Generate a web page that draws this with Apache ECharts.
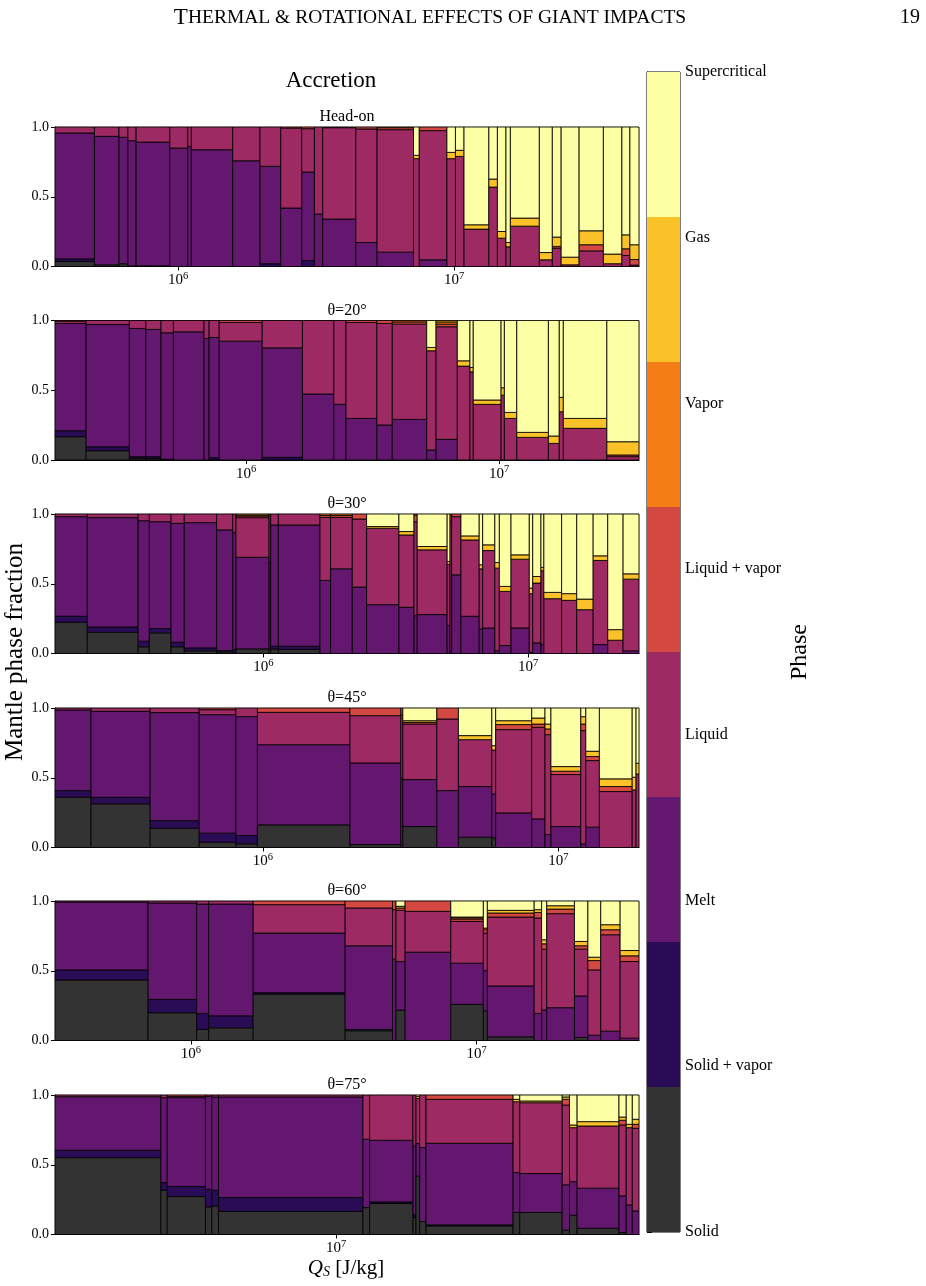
<!DOCTYPE html>
<html>
<head>
<meta charset="utf-8">
<script src="https://cdn.jsdelivr.net/npm/echarts@6/dist/echarts.min.js"></script>
<style>
  html, body { margin: 0; background: #fff; }
  #chart { width: 926px; height: 1286px; }
</style>
</head>
<body>
<div id="chart"></div>
<script>
// phases, bottom to top, with their colours
const phases = ['Solid', 'Solid + vapor', 'Melt', 'Liquid', 'Liquid + vapor', 'Vapor', 'Gas', 'Supercritical'];
const phaseColors = ['#333333', '#2a0b55', '#64176e', '#9e2a63', '#d44842', '#f57d15', '#fac228', '#fcffa4'];

const panelTitles = ['Head-on', 'θ=20°', 'θ=30°', 'θ=45°', 'θ=60°', 'θ=75°'];

// bar edges, log10 of Q_S in J/kg
// levels: cumulative top of solid, solid+vapor, melt, liquid, liquid+vapor, vapor, gas
// (supercritical fills the rest up to 1)
const headOnEdges = [5.554, 5.697, 5.786, 5.818, 5.848, 5.970, 6.035, 6.048, 6.198, 6.297, 6.372, 6.448, 6.494, 6.524, 6.644, 6.721, 6.853, 6.874, 6.974, 7.005, 7.036, 7.126, 7.157, 7.188, 7.204, 7.309, 7.356, 7.388, 7.453, 7.541, 7.608, 7.637, 7.670];
const headOnLevels = [
  [0.036, 0.055, 0.957, 1, 1, 1, 1],
  [0.012, 0.012, 0.933, 1, 1, 1, 1],
  [0.020, 0.020, 0.926, 1, 1, 1, 1],
  [0.005, 0.005, 0.902, 1, 1, 1, 1],
  [0.005, 0.005, 0.892, 1, 1, 1, 1],
  [0, 0, 0.849, 1, 1, 1, 1],
  [0, 0, 0.861, 1, 1, 1, 1],
  [0, 0, 0.837, 1, 1, 1, 1],
  [0, 0, 0.758, 1, 1, 1, 1],
  [0, 0.020, 0.718, 1, 1, 1, 1],
  [0, 0, 0.419, 0.993, 1, 1, 1],
  [0, 0.043, 0.677, 0.988, 1, 1, 1],
  [0, 0, 0.376, 1, 1, 1, 1],
  [0, 0, 0.340, 0.995, 1, 1, 1],
  [0, 0, 0.172, 0.986, 1, 1, 1],
  [0, 0, 0.103, 0.981, 0.995, 1, 1],
  [0, 0, 0, 0.773, 0.773, 0.773, 0.797],
  [0, 0, 0.048, 0.974, 1, 1, 1],
  [0, 0, 0, 0.773, 0.773, 0.773, 0.818],
  [0, 0, 0, 0.789, 0.789, 0.789, 0.833],
  [0, 0, 0, 0.268, 0.268, 0.268, 0.299],
  [0, 0, 0, 0.569, 0.569, 0.569, 0.627],
  [0, 0, 0, 0.203, 0.203, 0.203, 0.251],
  [0, 0, 0, 0.141, 0.141, 0.141, 0.172],
  [0, 0, 0, 0.289, 0.289, 0.289, 0.347],
  [0, 0, 0, 0.048, 0.048, 0.048, 0.100],
  [0, 0, 0, 0.132, 0.144, 0.144, 0.211],
  [0, 0, 0, 0.012, 0.012, 0.012, 0.067],
  [0, 0, 0, 0.112, 0.156, 0.156, 0.256],
  [0, 0, 0, 0.020, 0.020, 0.020, 0.089],
  [0, 0, 0, 0.079, 0.127, 0.127, 0.227],
  [0, 0, 0, 0.010, 0.050, 0.050, 0.156]
];

const theta20Edges = [5.245, 5.368, 5.539, 5.604, 5.664, 5.713, 5.834, 5.854, 5.894, 6.064, 6.223, 6.347, 6.395, 6.517, 6.578, 6.714, 6.751, 6.835, 6.885, 6.898, 7.008, 7.021, 7.070, 7.195, 7.238, 7.254, 7.426, 7.553];
const theta20Levels = [
  [0.167, 0.210, 0.979, 0.995, 1, 1, 1],
  [0.067, 0.095, 0.971, 1, 1, 1, 1],
  [0.012, 0.024, 0.943, 1, 1, 1, 1],
  [0.010, 0.024, 0.936, 1, 1, 1, 1],
  [0.005, 0.005, 0.912, 1, 1, 1, 1],
  [0, 0, 0.919, 1, 1, 1, 1],
  [0, 0, 0.871, 1, 1, 1, 1],
  [0, 0.017, 0.878, 1, 1, 1, 1],
  [0, 0, 0.852, 0.986, 1, 1, 1],
  [0, 0.019, 0.804, 1, 1, 1, 1],
  [0, 0, 0.473, 1, 1, 1, 1],
  [0, 0, 0.399, 1, 1, 1, 1],
  [0, 0, 0.298, 0.986, 1, 1, 1],
  [0, 0, 0.251, 0.979, 1, 1, 1],
  [0, 0, 0.291, 0.974, 0.990, 1, 1],
  [0, 0, 0.072, 0.783, 0.783, 0.783, 0.807],
  [0, 0, 0.148, 0.955, 0.974, 0.990, 1],
  [0, 0, 0, 0.673, 0.673, 0.673, 0.711],
  [0, 0, 0, 0.632, 0.632, 0.632, 0.663],
  [0, 0, 0, 0.399, 0.399, 0.399, 0.430],
  [0, 0, 0, 0.465, 0.465, 0.465, 0.518],
  [0, 0, 0, 0.298, 0.298, 0.298, 0.341],
  [0, 0, 0, 0.162, 0.162, 0.162, 0.198],
  [0, 0, 0, 0.119, 0.119, 0.119, 0.172],
  [0, 0, 0, 0.346, 0.346, 0.346, 0.449],
  [0, 0, 0, 0.227, 0.227, 0.227, 0.298],
  [0, 0, 0, 0.024, 0.036, 0.036, 0.131]
];

const theta30Edges = [5.214, 5.336, 5.528, 5.570, 5.652, 5.702, 5.824, 5.885, 5.897, 6.022, 6.028, 6.057, 6.214, 6.254, 6.336, 6.390, 6.512, 6.569, 6.581, 6.694, 6.705, 6.711, 6.746, 6.815, 6.828, 6.874, 6.891, 6.935, 7.004, 7.017, 7.048, 7.059, 7.126, 7.183, 7.245, 7.300, 7.358, 7.418];
const theta30Levels = [
  [0.224, 0.267, 0.981, 1, 1, 1, 1],
  [0.152, 0.190, 0.974, 1, 1, 1, 1],
  [0.048, 0.088, 0.952, 1, 1, 1, 1],
  [0.148, 0.179, 0.945, 1, 1, 1, 1],
  [0.048, 0.081, 0.933, 1, 1, 1, 1],
  [0.019, 0.040, 0.938, 1, 1, 1, 1],
  [0.012, 0.021, 0.886, 1, 1, 1, 1],
  [0, 0.029, 0.867, 1, 1, 1, 1],
  [0.033, 0.033, 0.690, 0.974, 0.986, 0.993, 1],
  [0, 0, 0.652, 1, 1, 1, 1],
  [0.033, 0.052, 0.921, 1, 1, 1, 1],
  [0.029, 0.052, 0.921, 1, 1, 1, 1],
  [0, 0, 0.524, 0.976, 0.990, 1, 1],
  [0, 0, 0.607, 0.976, 0.990, 1, 1],
  [0, 0, 0.476, 0.964, 1, 1, 1],
  [0, 0, 0.350, 0.898, 0.898, 0.898, 0.910],
  [0, 0, 0.331, 0.850, 0.850, 0.850, 0.874],
  [0, 0, 0.271, 0.945, 0.993, 1, 1],
  [0, 0, 0.279, 0.743, 0.743, 0.743, 0.767],
  [0, 0, 0.200, 0.640, 0.640, 0.640, 0.660],
  [0, 0, 0.020, 0.950, 1, 1, 1],
  [0, 0, 0.564, 0.981, 1, 1, 1],
  [0, 0, 0.267, 0.814, 0.814, 0.814, 0.843],
  [0, 0, 0.176, 0.607, 0.607, 0.607, 0.636],
  [0, 0, 0.183, 0.738, 0.738, 0.738, 0.779],
  [0, 0, 0.020, 0.612, 0.612, 0.612, 0.652],
  [0, 0, 0.057, 0.445, 0.445, 0.445, 0.481],
  [0, 0, 0.183, 0.676, 0.676, 0.676, 0.707],
  [0, 0, 0.010, 0.429, 0.429, 0.429, 0.469],
  [0, 0, 0.076, 0.505, 0.505, 0.505, 0.552],
  [0, 0, 0.064, 0.593, 0.593, 0.593, 0.617],
  [0, 0, 0, 0.393, 0.393, 0.393, 0.438],
  [0, 0, 0, 0.381, 0.381, 0.381, 0.429],
  [0, 0, 0, 0.314, 0.314, 0.314, 0.390],
  [0, 0, 0.064, 0.667, 0.667, 0.667, 0.700],
  [0, 0, 0, 0.095, 0.095, 0.095, 0.171],
  [0, 0, 0.019, 0.533, 0.533, 0.533, 0.571]
];

const theta45Edges = [5.297, 5.419, 5.619, 5.785, 5.909, 5.982, 6.295, 6.467, 6.474, 6.589, 6.662, 6.775, 6.788, 6.910, 6.955, 6.975, 7.076, 7.093, 7.139, 7.250, 7.263, 7.273];
const theta45Levels = [
  [0.360, 0.408, 0.986, 1, 1, 1, 1],
  [0.313, 0.360, 0.976, 1, 1, 1, 1],
  [0.138, 0.193, 0.967, 1, 1, 1, 1],
  [0.038, 0.103, 0.952, 0.988, 1, 1, 1],
  [0.026, 0.086, 0.938, 1, 1, 1, 1],
  [0.162, 0.162, 0.737, 0.969, 1, 1, 1],
  [0.021, 0.021, 0.606, 0.945, 1, 1, 1],
  [0, 0, 0.500, 0.950, 1, 1, 1],
  [0.150, 0.150, 0.487, 0.885, 0.897, 0.897, 0.909],
  [0, 0, 0.408, 0.921, 1, 1, 1],
  [0.074, 0.074, 0.437, 0.773, 0.773, 0.773, 0.802],
  [0.070, 0.070, 0.384, 0.699, 0.699, 0.699, 0.730],
  [0, 0, 0.248, 0.845, 0.881, 0.881, 0.909],
  [0, 0, 0.205, 0.862, 0.885, 0.885, 0.928],
  [0, 0, 0.093, 0.809, 0.850, 0.850, 0.885],
  [0, 0, 0.150, 0.523, 0.547, 0.547, 0.580],
  [0, 0, 0.026, 0.838, 0.885, 0.885, 0.938],
  [0, 0, 0.146, 0.623, 0.652, 0.652, 0.690],
  [0, 0, 0, 0.401, 0.437, 0.437, 0.492],
  [0, 0, 0, 0.413, 0.413, 0.413, 0.504],
  [0, 0, 0, 0.527, 0.527, 0.527, 0.604]
];

const theta60Edges = [5.524, 5.850, 6.020, 6.062, 6.218, 6.540, 6.706, 6.718, 6.750, 6.910, 7.024, 7.038, 7.202, 7.228, 7.246, 7.343, 7.390, 7.435, 7.503, 7.569];
const theta60Levels = [
  [0.434, 0.506, 0.993, 1, 1, 1, 1],
  [0.199, 0.295, 0.986, 1, 1, 1, 1],
  [0.079, 0.194, 0.978, 1, 1, 1, 1],
  [0.091, 0.177, 0.978, 1, 1, 1, 1],
  [0.333, 0.343, 0.770, 0.974, 1, 1, 1],
  [0.070, 0.079, 0.679, 0.950, 1, 1, 1],
  [0, 0, 0.583, 0.938, 1, 1, 1],
  [0.218, 0.218, 0.566, 0.933, 0.950, 0.950, 0.962],
  [0, 0, 0.633, 0.926, 1, 1, 1],
  [0.259, 0.259, 0.554, 0.854, 0.871, 0.880, 0.885],
  [0.213, 0.213, 0.501, 0.770, 0.794, 0.794, 0.806],
  [0.026, 0.026, 0.391, 0.885, 0.914, 0.914, 0.933],
  [0, 0, 0.194, 0.878, 0.918, 0.918, 0.938],
  [0, 0, 0.218, 0.655, 0.693, 0.693, 0.722],
  [0, 0, 0.235, 0.909, 0.942, 0.942, 0.966],
  [0.022, 0.022, 0.319, 0.655, 0.679, 0.679, 0.710],
  [0, 0, 0.038, 0.506, 0.573, 0.573, 0.597],
  [0, 0, 0.067, 0.758, 0.794, 0.794, 0.830],
  [0, 0, 0.017, 0.566, 0.607, 0.607, 0.645]
];

const theta75Edges = [6.073, 6.422, 6.443, 6.569, 6.590, 6.612, 7.088, 7.110, 7.253, 7.263, 7.275, 7.296, 7.583, 7.605, 7.745, 7.769, 7.794, 7.932, 7.956, 7.976, 7.998];
const theta75Levels = [
  [0.551, 0.604, 0.988, 1, 1, 1, 1],
  [0.317, 0.372, 0.981, 1, 1, 1, 1],
  [0.272, 0.344, 0.981, 0.990, 1, 1, 1],
  [0.198, 0.325, 0.990, 1, 1, 1, 1],
  [0.205, 0.317, 0.986, 1, 1, 1, 1],
  [0.165, 0.265, 0.986, 1, 1, 1, 1],
  [0.193, 0.193, 0.683, 1, 1, 1, 1],
  [0.222, 0.234, 0.675, 1, 1, 1, 1],
  [0.122, 0.141, 0.635, 1, 1, 1, 1],
  [0.420, 0.420, 0.652, 0.976, 0.976, 0.976, 0.990],
  [0.093, 0.093, 0.623, 1, 1, 1, 1],
  [0.062, 0.069, 0.654, 0.969, 1, 1, 1],
  [0.158, 0.158, 0.444, 0.952, 0.952, 0.952, 0.969],
  [0.158, 0.158, 0.437, 0.945, 0.945, 0.945, 0.957],
  [0.031, 0.031, 0.356, 0.928, 0.969, 0.969, 0.986],
  [0.138, 0.138, 0.379, 0.766, 0.766, 0.766, 0.785],
  [0.045, 0.045, 0.332, 0.778, 0.778, 0.778, 0.809],
  [0.014, 0.014, 0.277, 0.785, 0.819, 0.819, 0.842],
  [0, 0, 0.212, 0.766, 0.766, 0.766, 0.790],
  [0, 0, 0.169, 0.761, 0.790, 0.790, 0.826]
];

const panels = [
  { edges: headOnEdges, levels: headOnLevels },
  { edges: theta20Edges, levels: theta20Levels },
  { edges: theta30Edges, levels: theta30Levels },
  { edges: theta45Edges, levels: theta45Levels },
  { edges: theta60Edges, levels: theta60Levels },
  { edges: theta75Edges, levels: theta75Levels }
];

const FONT = 'Liberation Serif';
const gridTops = [127, 320.5, 514, 708, 901, 1095];
const gridH = 139.5;
const gridL = 55;
const gridW = 584;

// log-axis ticks (in log10 units)
function majorTicks(min, max) {
  const out = [];
  for (let n = Math.ceil(min); n <= max; n++) out.push(n);
  return out;
}
function minorTicks(min, max) {
  const out = [];
  for (let n = Math.floor(min); n <= Math.ceil(max); n++) {
    for (let k = 2; k <= 9; k++) {
      const v = n + Math.log10(k);
      if (v > min && v < max) out.push(v);
    }
  }
  return out;
}

const grids = [], xAxes = [], yAxes = [], series = [], graphics = [];

panels.forEach((p, i) => {
  const min = p.edges[0], max = p.edges[p.edges.length - 1];
  grids.push({ left: gridL, top: gridTops[i], width: gridW, height: gridH,
    show: true, borderColor: '#000', borderWidth: 1, backgroundColor: 'transparent' });
  const majors = majorTicks(min, max);
  xAxes.push({
    type: 'value', gridIndex: i, min, max,
    axisLine: { show: true, onZero: false, lineStyle: { color: '#000', width: 1 } },
    splitLine: { show: false },
    axisTick: { show: true, length: 4, customValues: majors, lineStyle: { color: '#000' } },
    axisLabel: {
      customValues: majors, margin: 4, color: '#000', fontFamily: FONT, fontSize: 15,
      formatter: v => '10{sup|' + Math.round(v) + '}',
      rich: { sup: { fontSize: 10.5, fontFamily: FONT, color: '#000', padding: [0, 0, 9, 0] } }
    }
  });
  xAxes.push({
    type: 'value', gridIndex: i, min, max,
    axisLine: { show: false }, splitLine: { show: false }, axisLabel: { show: false },
    axisTick: { show: true, length: 2.5, customValues: minorTicks(min, max), lineStyle: { color: '#000' } }
  });
  yAxes.push({
    type: 'value', gridIndex: i, min: 0, max: 1, interval: 0.5,
    axisLine: { show: true, lineStyle: { color: '#000', width: 1 } },
    splitLine: { show: false },
    axisTick: { show: true, length: 4, lineStyle: { color: '#000' } },
    axisLabel: { margin: 6, color: '#000', fontFamily: FONT, fontSize: 14, formatter: v => v.toFixed(1) }
  });
  series.push({
    type: 'custom', xAxisIndex: 2 * i, yAxisIndex: i, clip: true,
    data: p.levels.map((lv, j) => [p.edges[j], p.edges[j + 1]].concat(lv)),
    encode: { x: [0, 1], y: [2] },
    renderItem: (params, api) => {
      const x0 = api.value(0), x1 = api.value(1);
      const tops = [];
      for (let k = 2; k <= 8; k++) tops.push(api.value(k));
      tops.push(1);
      const children = [];
      let bottom = 0;
      tops.forEach((top, k) => {
        if (top - bottom > 1e-6) {
          const a = api.coord([x0, bottom]), b = api.coord([x1, top]);
          children.push({
            type: 'rect',
            shape: { x: a[0], y: b[1], width: b[0] - a[0], height: a[1] - b[1] },
            style: { fill: phaseColors[k], stroke: 'rgba(0,0,0,0.85)', lineWidth: 1 }
          });
          bottom = top;
        }
      });
      return { type: 'group', children };
    }
  });
  graphics.push({
    type: 'text', x: gridL + gridW / 2, y: gridTops[i] - 10,
    style: { text: panelTitles[i], align: 'center', verticalAlign: 'middle',
      font: '16px "' + FONT + '"', fill: '#000' }
  });
});

// colorbar
grids.push({ left: 647, top: 72, width: 33, height: 1160, show: true, borderColor: '#000', borderWidth: 1 });
xAxes.push({ type: 'value', gridIndex: 6, min: 0, max: 1, show: false });
yAxes.push({
  type: 'value', gridIndex: 6, min: 0, max: 7, interval: 1, position: 'right',
  axisLine: { show: true, lineStyle: { color: '#000' } }, splitLine: { show: false },
  axisTick: { show: true, length: 5, lineStyle: { color: '#000' } },
  axisLabel: { margin: 5, color: '#000', fontFamily: FONT, fontSize: 16, formatter: v => phases[Math.round(v)] }
});
series.push({
  type: 'custom', xAxisIndex: 12, yAxisIndex: 6,
  data: phases.map((name, k) => [k]),
  renderItem: (params, api) => {
    const k = api.value(0);
    const a = api.coord([0, k * 7 / 8]), b = api.coord([1, (k + 1) * 7 / 8]);
    return { type: 'rect', shape: { x: a[0], y: b[1], width: b[0] - a[0], height: a[1] - b[1] },
      style: { fill: phaseColors[k] } };
  }
});

const txt = (x, y, text, size) => ({
  type: 'text', x, y,
  style: { text, align: 'center', verticalAlign: 'middle', fill: '#000', font: size + 'px "' + FONT + '"' }
});

graphics.push(
  {
    type: 'text', x: 430, y: 18,
    style: {
      text: '{a|T}{b|HERMAL & ROTATIONAL EFFECTS OF GIANT IMPACTS}', align: 'center', verticalAlign: 'middle',
      rich: { a: { fontSize: 23, fontFamily: FONT, fill: '#000' }, b: { fontSize: 19.5, fontFamily: FONT, fill: '#000' } }
    }
  },
  txt(910, 18, '19', 20),
  txt(331, 81, 'Accretion', 23),
  { type: 'text', x: 15, y: 652, rotation: Math.PI / 2,
    style: { text: 'Mantle phase fraction', align: 'center', verticalAlign: 'middle', fill: '#000', font: '25px "' + FONT + '"' } },
  { type: 'text', x: 800, y: 652, rotation: Math.PI / 2,
    style: { text: 'Phase', align: 'center', verticalAlign: 'middle', fill: '#000', font: '24px "' + FONT + '"' } },
  {
    type: 'text', x: 346, y: 1268,
    style: {
      text: '{i|Q}{s|S} [J/kg]', align: 'center', verticalAlign: 'middle',
      rich: { i: { fontSize: 21, fontFamily: FONT, fontStyle: 'italic' },
              s: { fontSize: 14, fontFamily: FONT, fontStyle: 'italic', padding: [8, 0, 0, 0] } },
      font: '21px "' + FONT + '"', fill: '#000'
    }
  }
);

const chart = echarts.init(document.getElementById('chart'), null, { renderer: 'canvas' });
chart.setOption({
  animation: false,
  backgroundColor: '#fff',
  grid: grids, xAxis: xAxes, yAxis: yAxes, series,
  graphic: graphics
});
</script>
</body>
</html>
